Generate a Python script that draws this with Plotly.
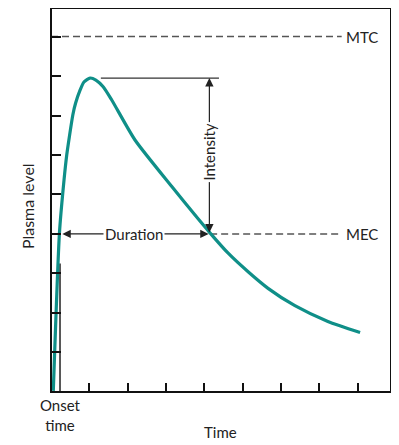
import plotly.graph_objects as go

# Plasma level curve
time = [0.06, 0.22, 0.34, 0.41, 0.48, 0.57, 0.64, 0.76, 0.86, 1.02, 1.17, 1.36, 1.58,
        2.19, 3.15, 3.82, 4.15, 4.62, 5.14, 5.66, 6.36, 7.22, 8.06]
level = [0.02, 4.02, 5.37, 6.00, 6.47, 7.02, 7.31, 7.65, 7.85, 7.95, 7.90, 7.73, 7.40,
         6.38, 5.20, 4.40, 4.02, 3.51, 3.04, 2.62, 2.18, 1.78, 1.50]

MTC = 9.0
MEC = 4.0
onset_time = 0.235
peak_time = 1.02
peak_level = 7.95
mec_cross = 4.15
dash_end = 7.58
x_ticks = [1, 2, 3, 4, 5, 6, 7, 8]
y_ticks = [1, 2, 3, 4, 5, 6, 7, 8, 9]

FONT = "Lato"
TXT = "#222222"
TEAL = "#0f8f88"

fig = go.Figure()

# MTC dashed line
fig.add_trace(go.Scatter(x=[0, dash_end], y=[MTC, MTC], mode="lines",
                         line=dict(color="#555555", width=1.5, dash="7px,4px"),
                         hoverinfo="skip", showlegend=False))
# MEC dashed line
fig.add_trace(go.Scatter(x=[mec_cross, dash_end], y=[MEC, MEC], mode="lines",
                         line=dict(color="#555555", width=1.5, dash="7px,4px"),
                         hoverinfo="skip", showlegend=False))
# peak horizontal line
fig.add_trace(go.Scatter(x=[peak_time + 0.28, mec_cross + 0.23], y=[peak_level, peak_level], mode="lines",
                         line=dict(color="#333333", width=1.2),
                         hoverinfo="skip", showlegend=False))
# onset vertical line
fig.add_trace(go.Scatter(x=[onset_time, onset_time], y=[0, 3.25], mode="lines",
                         line=dict(color="#222222", width=1.5),
                         hoverinfo="skip", showlegend=False))
# curve
fig.add_trace(go.Scatter(x=time, y=level, mode="lines",
                         line=dict(color=TEAL, width=3.2, shape="spline", smoothing=0.6),
                         hoverinfo="skip", showlegend=False))
# onset dot
fig.add_trace(go.Scatter(x=[onset_time], y=[0], mode="markers",
                         marker=dict(color="#111111", size=8),
                         cliponaxis=False, hoverinfo="skip", showlegend=False))

ann = []
# Duration double arrow
ann.append(dict(x=onset_time + 0.06, y=MEC, ax=mec_cross, ay=MEC, xref="x", yref="y",
                axref="x", ayref="y", text="", showarrow=True, arrowhead=2, startarrowhead=2,
                arrowside="end+start", arrowsize=1.4, arrowwidth=1.2, arrowcolor="#222222"))
ann.append(dict(x=2.17, y=MEC, xref="x", yref="y", text="Duration", showarrow=False,
                bgcolor="white", borderpad=1, font=dict(family=FONT, size=15, color=TXT)))
# Intensity double arrow
ann.append(dict(x=4.13, y=peak_level, ax=4.13, ay=MEC, xref="x", yref="y",
                axref="x", ayref="y", text="", showarrow=True, arrowhead=2, startarrowhead=2,
                arrowside="end+start", arrowsize=1.4, arrowwidth=1.2, arrowcolor="#222222"))
ann.append(dict(x=4.13, y=6.07, xref="x", yref="y", text="Intensity", showarrow=False,
                textangle=-90, bgcolor="white", borderpad=1,
                font=dict(family=FONT, size=15, color=TXT)))
# labels
ann.append(dict(x=dash_end + 0.07, y=MTC, xref="x", yref="y", text="MTC", showarrow=False,
                xanchor="left", font=dict(family=FONT, size=15, color=TXT)))
ann.append(dict(x=dash_end + 0.07, y=MEC, xref="x", yref="y", text="MEC", showarrow=False,
                xanchor="left", font=dict(family=FONT, size=15, color=TXT)))
ann.append(dict(x=onset_time, y=-0.063, xref="x", yref="paper", text="Onset<br>time", showarrow=False,
                xanchor="center", yanchor="middle", font=dict(family=FONT, size=15, color=TXT)))
ann.append(dict(x=4.41, y=-0.107, xref="x", yref="paper", text="Time", showarrow=False,
                xanchor="center", yanchor="middle", font=dict(family=FONT, size=15, color=TXT)))
ann.append(dict(x=-0.074, y=0.484, xref="paper", yref="paper", text="Plasma level", showarrow=False,
                xanchor="center", yanchor="middle", textangle=-90,
                font=dict(family=FONT, size=16, color=TXT)))

fig.update_layout(
    width=391, height=437,
    margin=dict(l=44, r=9, t=1, b=54, pad=0, autoexpand=False),
    paper_bgcolor="white", plot_bgcolor="white",
    annotations=ann,
    xaxis=dict(range=[0.026, 8.84], tickvals=x_ticks, ticks="inside", ticklen=8, tickwidth=1.5,
               tickcolor="#111111", showticklabels=False, showgrid=False, zeroline=False,
               showline=True, linecolor="#111111", linewidth=2, mirror=True, fixedrange=True),
    yaxis=dict(range=[0.018, 9.70], tickvals=y_ticks, ticks="inside", ticklen=9, tickwidth=1.5,
               tickcolor="#111111", showticklabels=False, showgrid=False, zeroline=False,
               showline=True, linecolor="#111111", linewidth=2, mirror=True, fixedrange=True),
)

fig.write_html("out.html")
